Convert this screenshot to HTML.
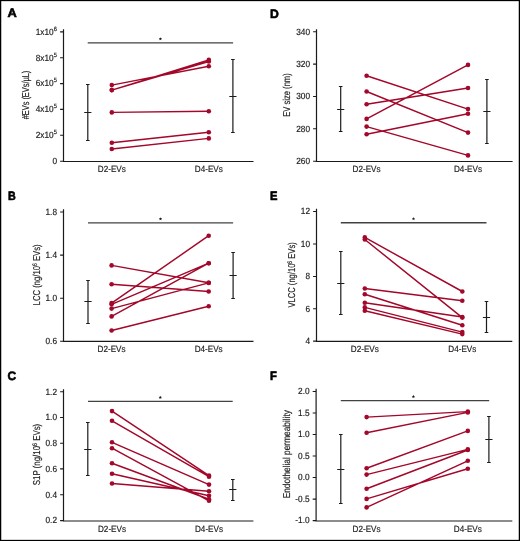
<!DOCTYPE html>
<html><head><meta charset="utf-8"><title>Figure</title>
<style>html,body{margin:0;padding:0;background:#fff;}body{width:520px;height:541px;overflow:hidden;}svg{display:block;will-change:transform;}text{stroke:#222;stroke-width:0.18px;}svg{font-family:"Liberation Sans",sans-serif;text-rendering:geometricPrecision;}</style>
</head><body>
<svg width="520" height="541" viewBox="0 0 520 541">
<rect x="0" y="0" width="520" height="541" fill="#fff"/>
<rect x="0.6" y="0.5" width="518.8" height="540" fill="none" stroke="#000" stroke-width="1.3"/>
<g><text transform="translate(7.4 17.3) scale(1.05 1)" font-size="12.2" font-weight="bold" fill="#000" style="stroke:#000;stroke-width:0.6px">A</text>
<path d="M63.5 29.3V161.5H253.5" fill="none" stroke="#1a1a1a" stroke-width="1.2"/>
<path d="M60.1 31.9H63.5M60.1 57.8H63.5M60.1 83.6H63.5M60.1 109.4H63.5M60.1 135.3H63.5M60.1 161.2H63.5" stroke="#1a1a1a" stroke-width="1.1"/>
<text transform="translate(56.9 34.7) scale(0.92 1)" font-size="9.0" fill="#222" text-anchor="end">1x10<tspan font-size="6.2" dy="-4.0">6</tspan></text>
<text transform="translate(56.9 60.6) scale(0.92 1)" font-size="9.0" fill="#222" text-anchor="end">8x10<tspan font-size="6.2" dy="-4.0">5</tspan></text>
<text transform="translate(56.9 86.4) scale(0.92 1)" font-size="9.0" fill="#222" text-anchor="end">6x10<tspan font-size="6.2" dy="-4.0">5</tspan></text>
<text transform="translate(56.9 112.2) scale(0.92 1)" font-size="9.0" fill="#222" text-anchor="end">4x10<tspan font-size="6.2" dy="-4.0">5</tspan></text>
<text transform="translate(56.9 138.1) scale(0.92 1)" font-size="9.0" fill="#222" text-anchor="end">2x10<tspan font-size="6.2" dy="-4.0">5</tspan></text>
<text transform="translate(57 164) scale(0.92 1)" font-size="9.0" fill="#222" text-anchor="end">0</text>
<text transform="translate(29.4 95) rotate(-90)" font-size="10.0" fill="#222" text-anchor="middle" textLength="48.6" lengthAdjust="spacingAndGlyphs">#EVs (EVs/µL)</text>
<text x="111.8" y="172" font-size="9.0" fill="#222" text-anchor="middle" textLength="28" lengthAdjust="spacingAndGlyphs">D2-EVs</text>
<text x="208.8" y="172" font-size="9.0" fill="#222" text-anchor="middle" textLength="28" lengthAdjust="spacingAndGlyphs">D4-EVs</text>
<path d="M87.7 42.9H233.1" stroke="#424242" stroke-width="1.4"/>
<polygon points="160.4,37.15 160.87,38.25 162.06,38.36 161.16,39.15 161.43,40.32 160.4,39.7 159.37,40.32 159.64,39.15 158.74,38.36 159.93,38.25" fill="#1a1a1a"/>
<path d="M87.8 84.5V140.5M86 84.5H89.6M86 140.5H89.6M84.2 112.5H91.4" fill="none" stroke="#1c1c1c" stroke-width="1.2"/>
<path d="M232.9 59.5V132.5M231.1 59.5H234.7M231.1 132.5H234.7M229.3 96.5H236.5" fill="none" stroke="#1c1c1c" stroke-width="1.2"/>
<path d="M111.8 85.1L208.8 66.2M111.8 90.1L208.8 59.9M111.8 90.1L208.8 61.5M111.8 112.4L208.8 111.2M111.8 142.75L208.8 132.2M111.8 149L208.8 138.4" fill="none" stroke="#a3072a" stroke-width="1.45"/>
<circle cx="111.8" cy="85.1" r="2.3" fill="#a3072a"/>
<circle cx="208.8" cy="66.2" r="2.3" fill="#a3072a"/>
<circle cx="111.8" cy="90.1" r="2.3" fill="#a3072a"/>
<circle cx="208.8" cy="59.9" r="2.3" fill="#a3072a"/>
<circle cx="111.8" cy="90.1" r="2.3" fill="#a3072a"/>
<circle cx="208.8" cy="61.5" r="2.3" fill="#a3072a"/>
<circle cx="111.8" cy="112.4" r="2.3" fill="#a3072a"/>
<circle cx="208.8" cy="111.2" r="2.3" fill="#a3072a"/>
<circle cx="111.8" cy="142.75" r="2.3" fill="#a3072a"/>
<circle cx="208.8" cy="132.2" r="2.3" fill="#a3072a"/>
<circle cx="111.8" cy="149" r="2.3" fill="#a3072a"/>
<circle cx="208.8" cy="138.4" r="2.3" fill="#a3072a"/></g>
<g><text transform="translate(8.1 200.2) scale(0.88 1)" font-size="12.2" font-weight="bold" fill="#000" style="stroke:#000;stroke-width:0.6px">B</text>
<path d="M63.5 209.2V341.4H253.5" fill="none" stroke="#1a1a1a" stroke-width="1.2"/>
<path d="M60.1 212H63.5M60.1 255.1H63.5M60.1 298.2H63.5M60.1 341.2H63.5" stroke="#1a1a1a" stroke-width="1.1"/>
<text transform="translate(57 214.8) scale(0.92 1)" font-size="9.0" fill="#222" text-anchor="end">1.8</text>
<text transform="translate(57 257.9) scale(0.92 1)" font-size="9.0" fill="#222" text-anchor="end">1.4</text>
<text transform="translate(57 301) scale(0.92 1)" font-size="9.0" fill="#222" text-anchor="end">1.0</text>
<text transform="translate(57 344) scale(0.92 1)" font-size="9.0" fill="#222" text-anchor="end">0.6</text>
<text transform="translate(40.1 274.9) rotate(-90)" font-size="10.0" fill="#222" text-anchor="middle" textLength="61" lengthAdjust="spacingAndGlyphs">LCC (ng/10<tspan font-size="6.6" dy="-3.4">6</tspan><tspan dy="3.4"> EVs)</tspan></text>
<text x="111.6" y="351.8" font-size="9.0" fill="#222" text-anchor="middle" textLength="28" lengthAdjust="spacingAndGlyphs">D2-EVs</text>
<text x="208.7" y="351.8" font-size="9.0" fill="#222" text-anchor="middle" textLength="28" lengthAdjust="spacingAndGlyphs">D4-EVs</text>
<path d="M88 222.9H233.1" stroke="#424242" stroke-width="1.4"/>
<polygon points="160.5,217.15 160.97,218.25 162.16,218.36 161.26,219.15 161.53,220.32 160.5,219.7 159.47,220.32 159.74,219.15 158.84,218.36 160.03,218.25" fill="#1a1a1a"/>
<path d="M88 280.5V323.5M86.2 280.5H89.8M86.2 323.5H89.8M84.4 301.5H91.6" fill="none" stroke="#1c1c1c" stroke-width="1.2"/>
<path d="M233.1 252.5V298.5M231.3 252.5H234.9M231.3 298.5H234.9M229.5 275.5H236.7" fill="none" stroke="#1c1c1c" stroke-width="1.2"/>
<path d="M111.6 265.4L208.7 282.8M111.6 284.2L208.7 291.5M111.6 303.1L208.7 235.7M111.6 304.3L208.7 263.2M111.6 308.6L208.7 282.9M111.6 316.4L208.7 263.2M111.6 330.5L208.7 306.2" fill="none" stroke="#a3072a" stroke-width="1.45"/>
<circle cx="111.6" cy="265.4" r="2.3" fill="#a3072a"/>
<circle cx="208.7" cy="282.8" r="2.3" fill="#a3072a"/>
<circle cx="111.6" cy="284.2" r="2.3" fill="#a3072a"/>
<circle cx="208.7" cy="291.5" r="2.3" fill="#a3072a"/>
<circle cx="111.6" cy="303.1" r="2.3" fill="#a3072a"/>
<circle cx="208.7" cy="235.7" r="2.3" fill="#a3072a"/>
<circle cx="111.6" cy="304.3" r="2.3" fill="#a3072a"/>
<circle cx="208.7" cy="263.2" r="2.3" fill="#a3072a"/>
<circle cx="111.6" cy="308.6" r="2.3" fill="#a3072a"/>
<circle cx="208.7" cy="282.9" r="2.3" fill="#a3072a"/>
<circle cx="111.6" cy="316.4" r="2.3" fill="#a3072a"/>
<circle cx="208.7" cy="263.2" r="2.3" fill="#a3072a"/>
<circle cx="111.6" cy="330.5" r="2.3" fill="#a3072a"/>
<circle cx="208.7" cy="306.2" r="2.3" fill="#a3072a"/></g>
<g><text transform="translate(7.5 380.2) scale(0.98 1)" font-size="12.2" font-weight="bold" fill="#000" style="stroke:#000;stroke-width:0.6px">C</text>
<path d="M63.5 389.2V521H253.4" fill="none" stroke="#1a1a1a" stroke-width="1.2"/>
<path d="M60.1 391.8H63.5M60.1 417.5H63.5M60.1 443.2H63.5M60.1 468.9H63.5M60.1 494.7H63.5M60.1 520.6H63.5" stroke="#1a1a1a" stroke-width="1.1"/>
<text transform="translate(57 394.6) scale(0.92 1)" font-size="9.0" fill="#222" text-anchor="end">1.2</text>
<text transform="translate(57 420.3) scale(0.92 1)" font-size="9.0" fill="#222" text-anchor="end">1.0</text>
<text transform="translate(57 446) scale(0.92 1)" font-size="9.0" fill="#222" text-anchor="end">0.8</text>
<text transform="translate(57 471.7) scale(0.92 1)" font-size="9.0" fill="#222" text-anchor="end">0.6</text>
<text transform="translate(57 497.5) scale(0.92 1)" font-size="9.0" fill="#222" text-anchor="end">0.4</text>
<text transform="translate(57 523.4) scale(0.92 1)" font-size="9.0" fill="#222" text-anchor="end">0.2</text>
<text transform="translate(40.2 454.5) rotate(-90)" font-size="10.0" fill="#222" text-anchor="middle" textLength="61.4" lengthAdjust="spacingAndGlyphs">S1P (ng/10<tspan font-size="6.6" dy="-3.4">6</tspan><tspan dy="3.4"> EVs)</tspan></text>
<text x="112" y="531.6" font-size="9.0" fill="#222" text-anchor="middle" textLength="28" lengthAdjust="spacingAndGlyphs">D2-EVs</text>
<text x="209" y="531.6" font-size="9.0" fill="#222" text-anchor="middle" textLength="28" lengthAdjust="spacingAndGlyphs">D4-EVs</text>
<path d="M88 401.4H232.7" stroke="#424242" stroke-width="1.4"/>
<polygon points="160.3,395.75 160.77,396.85 161.96,396.96 161.06,397.75 161.33,398.92 160.3,398.3 159.27,398.92 159.54,397.75 158.64,396.96 159.83,396.85" fill="#1a1a1a"/>
<path d="M87.8 422.5V475.5M86 422.5H89.6M86 475.5H89.6M84.2 449.5H91.4" fill="none" stroke="#1c1c1c" stroke-width="1.2"/>
<path d="M232.8 479.5V500.5M231 479.5H234.6M231 500.5H234.6M229.2 489.5H236.4" fill="none" stroke="#1c1c1c" stroke-width="1.2"/>
<path d="M112 411.1L209 475.6M112 420.8L209 476.7M112 442.3L209 484.6M112 448.2L209 500.8M112 463.3L209 499.2M112 473.8L209 495.7M112 483.5L209 491.2" fill="none" stroke="#a3072a" stroke-width="1.45"/>
<circle cx="112" cy="411.1" r="2.3" fill="#a3072a"/>
<circle cx="209" cy="475.6" r="2.3" fill="#a3072a"/>
<circle cx="112" cy="420.8" r="2.3" fill="#a3072a"/>
<circle cx="209" cy="476.7" r="2.3" fill="#a3072a"/>
<circle cx="112" cy="442.3" r="2.3" fill="#a3072a"/>
<circle cx="209" cy="484.6" r="2.3" fill="#a3072a"/>
<circle cx="112" cy="448.2" r="2.3" fill="#a3072a"/>
<circle cx="209" cy="500.8" r="2.3" fill="#a3072a"/>
<circle cx="112" cy="463.3" r="2.3" fill="#a3072a"/>
<circle cx="209" cy="499.2" r="2.3" fill="#a3072a"/>
<circle cx="112" cy="473.8" r="2.3" fill="#a3072a"/>
<circle cx="209" cy="495.7" r="2.3" fill="#a3072a"/>
<circle cx="112" cy="483.5" r="2.3" fill="#a3072a"/>
<circle cx="209" cy="491.2" r="2.3" fill="#a3072a"/></g>
<g><text transform="translate(270 17.5) scale(1.0 1)" font-size="12.2" font-weight="bold" fill="#000" style="stroke:#000;stroke-width:0.6px">D</text>
<path d="M316.5 29.2V161.5H512.6" fill="none" stroke="#1a1a1a" stroke-width="1.2"/>
<path d="M313.1 31.8H316.5M313.1 64.1H316.5M313.1 96.5H316.5M313.1 128.8H316.5M313.1 161.2H316.5" stroke="#1a1a1a" stroke-width="1.1"/>
<text transform="translate(310 34.6) scale(0.92 1)" font-size="9.0" fill="#222" text-anchor="end">340</text>
<text transform="translate(310 66.9) scale(0.92 1)" font-size="9.0" fill="#222" text-anchor="end">320</text>
<text transform="translate(310 99.3) scale(0.92 1)" font-size="9.0" fill="#222" text-anchor="end">300</text>
<text transform="translate(310 131.6) scale(0.92 1)" font-size="9.0" fill="#222" text-anchor="end">280</text>
<text transform="translate(310 164) scale(0.92 1)" font-size="9.0" fill="#222" text-anchor="end">260</text>
<text transform="translate(290.1 95) rotate(-90)" font-size="10.0" fill="#222" text-anchor="middle" textLength="43.4" lengthAdjust="spacingAndGlyphs">EV size (nm)</text>
<text x="366.6" y="172" font-size="9.0" fill="#222" text-anchor="middle" textLength="28" lengthAdjust="spacingAndGlyphs">D2-EVs</text>
<text x="468" y="172" font-size="9.0" fill="#222" text-anchor="middle" textLength="28" lengthAdjust="spacingAndGlyphs">D4-EVs</text>
<path d="M340.7 86.5V131.5M338.9 86.5H342.5M338.9 131.5H342.5M337.1 109.5H344.3" fill="none" stroke="#1c1c1c" stroke-width="1.2"/>
<path d="M486.9 79.5V143.5M485.1 79.5H488.7M485.1 143.5H488.7M483.3 111.5H490.5" fill="none" stroke="#1c1c1c" stroke-width="1.2"/>
<path d="M366.6 75.7L468 109.1M366.6 91.5L468 132.6M366.6 104.3L468 88M366.6 118.9L468 64.9M366.6 126.6L468 155.4M366.6 134.3L468 113.7" fill="none" stroke="#a3072a" stroke-width="1.45"/>
<circle cx="366.6" cy="75.7" r="2.3" fill="#a3072a"/>
<circle cx="468" cy="109.1" r="2.3" fill="#a3072a"/>
<circle cx="366.6" cy="91.5" r="2.3" fill="#a3072a"/>
<circle cx="468" cy="132.6" r="2.3" fill="#a3072a"/>
<circle cx="366.6" cy="104.3" r="2.3" fill="#a3072a"/>
<circle cx="468" cy="88" r="2.3" fill="#a3072a"/>
<circle cx="366.6" cy="118.9" r="2.3" fill="#a3072a"/>
<circle cx="468" cy="64.9" r="2.3" fill="#a3072a"/>
<circle cx="366.6" cy="126.6" r="2.3" fill="#a3072a"/>
<circle cx="468" cy="155.4" r="2.3" fill="#a3072a"/>
<circle cx="366.6" cy="134.3" r="2.3" fill="#a3072a"/>
<circle cx="468" cy="113.7" r="2.3" fill="#a3072a"/></g>
<g><text transform="translate(270.1 200.2) scale(0.92 1)" font-size="12.2" font-weight="bold" fill="#000" style="stroke:#000;stroke-width:0.6px">E</text>
<path d="M316.5 208.8V341.4H512.3" fill="none" stroke="#1a1a1a" stroke-width="1.2"/>
<path d="M313.1 211.5H316.5M313.1 244H316.5M313.1 276.5H316.5M313.1 308.8H316.5M313.1 341.1H316.5" stroke="#1a1a1a" stroke-width="1.1"/>
<text transform="translate(310 214.3) scale(0.92 1)" font-size="9.0" fill="#222" text-anchor="end">12</text>
<text transform="translate(310 246.8) scale(0.92 1)" font-size="9.0" fill="#222" text-anchor="end">10</text>
<text transform="translate(310 279.3) scale(0.92 1)" font-size="9.0" fill="#222" text-anchor="end">8</text>
<text transform="translate(310 311.6) scale(0.92 1)" font-size="9.0" fill="#222" text-anchor="end">6</text>
<text transform="translate(310 343.9) scale(0.92 1)" font-size="9.0" fill="#222" text-anchor="end">4</text>
<text transform="translate(295.1 274.9) rotate(-90)" font-size="10.0" fill="#222" text-anchor="middle" textLength="65.2" lengthAdjust="spacingAndGlyphs">VLCC (ng/10<tspan font-size="6.6" dy="-3.4">6</tspan><tspan dy="3.4"> EVs)</tspan></text>
<text x="364.8" y="351.6" font-size="9.0" fill="#222" text-anchor="middle" textLength="28" lengthAdjust="spacingAndGlyphs">D2-EVs</text>
<text x="462.3" y="351.6" font-size="9.0" fill="#222" text-anchor="middle" textLength="28" lengthAdjust="spacingAndGlyphs">D4-EVs</text>
<path d="M340.8 222.8H486.5" stroke="#424242" stroke-width="1.4"/>
<polygon points="413.5,217.05 413.97,218.15 415.16,218.26 414.26,219.05 414.53,220.22 413.5,219.6 412.47,220.22 412.74,219.05 411.84,218.26 413.03,218.15" fill="#1a1a1a"/>
<path d="M340.8 251.5V314.5M339 251.5H342.6M339 314.5H342.6M337.2 283.5H344.4" fill="none" stroke="#1c1c1c" stroke-width="1.2"/>
<path d="M486.5 301.5V332.5M484.7 301.5H488.3M484.7 332.5H488.3M482.9 317.5H490.1" fill="none" stroke="#1c1c1c" stroke-width="1.2"/>
<path d="M364.8 237.4L462.3 291.5M364.8 239.5L462.3 317.6M364.8 288.5L462.3 300.8M364.8 294.2L462.3 325.2M364.8 302.8L462.3 317M364.8 307.4L462.3 332.1M364.8 310.8L462.3 334.1" fill="none" stroke="#a3072a" stroke-width="1.45"/>
<circle cx="364.8" cy="237.4" r="2.3" fill="#a3072a"/>
<circle cx="462.3" cy="291.5" r="2.3" fill="#a3072a"/>
<circle cx="364.8" cy="239.5" r="2.3" fill="#a3072a"/>
<circle cx="462.3" cy="317.6" r="2.3" fill="#a3072a"/>
<circle cx="364.8" cy="288.5" r="2.3" fill="#a3072a"/>
<circle cx="462.3" cy="300.8" r="2.3" fill="#a3072a"/>
<circle cx="364.8" cy="294.2" r="2.3" fill="#a3072a"/>
<circle cx="462.3" cy="325.2" r="2.3" fill="#a3072a"/>
<circle cx="364.8" cy="302.8" r="2.3" fill="#a3072a"/>
<circle cx="462.3" cy="317" r="2.3" fill="#a3072a"/>
<circle cx="364.8" cy="307.4" r="2.3" fill="#a3072a"/>
<circle cx="462.3" cy="332.1" r="2.3" fill="#a3072a"/>
<circle cx="364.8" cy="310.8" r="2.3" fill="#a3072a"/>
<circle cx="462.3" cy="334.1" r="2.3" fill="#a3072a"/></g>
<g><text transform="translate(270.1 380.1) scale(0.92 1)" font-size="12.2" font-weight="bold" fill="#000" style="stroke:#000;stroke-width:0.6px">F</text>
<path d="M316.1 388.8V521H512.3" fill="none" stroke="#1a1a1a" stroke-width="1.2"/>
<path d="M312.7 391.5H316.1M312.7 413H316.1M312.7 434.5H316.1M312.7 456H316.1M312.7 477.5H316.1M312.7 499.1H316.1M312.7 520.6H316.1" stroke="#1a1a1a" stroke-width="1.1"/>
<text transform="translate(309.6 394.3) scale(0.92 1)" font-size="9.0" fill="#222" text-anchor="end">2.0</text>
<text transform="translate(309.6 415.8) scale(0.92 1)" font-size="9.0" fill="#222" text-anchor="end">1.5</text>
<text transform="translate(309.6 437.3) scale(0.92 1)" font-size="9.0" fill="#222" text-anchor="end">1.0</text>
<text transform="translate(309.6 458.8) scale(0.92 1)" font-size="9.0" fill="#222" text-anchor="end">0.5</text>
<text transform="translate(309.6 480.3) scale(0.92 1)" font-size="9.0" fill="#222" text-anchor="end">0.0</text>
<text transform="translate(309.6 501.9) scale(0.92 1)" font-size="9.0" fill="#222" text-anchor="end">-0.5</text>
<text transform="translate(309.6 523.4) scale(0.92 1)" font-size="9.0" fill="#222" text-anchor="end">-1.0</text>
<text transform="translate(289.7 454.2) rotate(-90)" font-size="10.0" fill="#222" text-anchor="middle" textLength="88.2" lengthAdjust="spacingAndGlyphs">Endothelial permeability</text>
<text x="366.6" y="531.5" font-size="9.0" fill="#222" text-anchor="middle" textLength="28" lengthAdjust="spacingAndGlyphs">D2-EVs</text>
<text x="467.8" y="531.5" font-size="9.0" fill="#222" text-anchor="middle" textLength="28" lengthAdjust="spacingAndGlyphs">D4-EVs</text>
<path d="M340.8 400.6H489.2" stroke="#424242" stroke-width="1.4"/>
<polygon points="413.4,394.85 413.87,395.95 415.06,396.06 414.16,396.85 414.43,398.02 413.4,397.4 412.37,398.02 412.64,396.85 411.74,396.06 412.93,395.95" fill="#1a1a1a"/>
<path d="M340.8 434.5V503.5M339 434.5H342.6M339 503.5H342.6M337.2 469.5H344.4" fill="none" stroke="#1c1c1c" stroke-width="1.2"/>
<path d="M488.9 416.5V462.5M487.1 416.5H490.7M487.1 462.5H490.7M485.3 439.5H492.5" fill="none" stroke="#1c1c1c" stroke-width="1.2"/>
<path d="M366.6 417.1L467.8 411.6M366.6 432.8L467.8 412.4M366.6 468.2L467.8 430.9M366.6 474.6L467.8 449.4M366.6 488.8L467.8 450M366.6 498.9L467.8 468.8M366.6 507.4L467.8 460.8" fill="none" stroke="#a3072a" stroke-width="1.45"/>
<circle cx="366.6" cy="417.1" r="2.3" fill="#a3072a"/>
<circle cx="467.8" cy="411.6" r="2.3" fill="#a3072a"/>
<circle cx="366.6" cy="432.8" r="2.3" fill="#a3072a"/>
<circle cx="467.8" cy="412.4" r="2.3" fill="#a3072a"/>
<circle cx="366.6" cy="468.2" r="2.3" fill="#a3072a"/>
<circle cx="467.8" cy="430.9" r="2.3" fill="#a3072a"/>
<circle cx="366.6" cy="474.6" r="2.3" fill="#a3072a"/>
<circle cx="467.8" cy="449.4" r="2.3" fill="#a3072a"/>
<circle cx="366.6" cy="488.8" r="2.3" fill="#a3072a"/>
<circle cx="467.8" cy="450" r="2.3" fill="#a3072a"/>
<circle cx="366.6" cy="498.9" r="2.3" fill="#a3072a"/>
<circle cx="467.8" cy="468.8" r="2.3" fill="#a3072a"/>
<circle cx="366.6" cy="507.4" r="2.3" fill="#a3072a"/>
<circle cx="467.8" cy="460.8" r="2.3" fill="#a3072a"/></g>
</svg>
</body></html>
